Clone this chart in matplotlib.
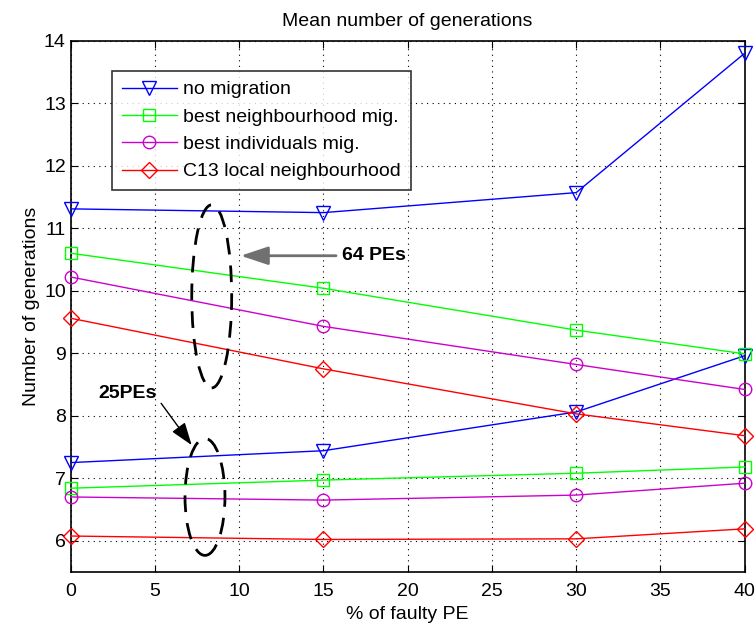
import matplotlib.pyplot as plt
from matplotlib.patches import Ellipse

plt.rcParams['font.family'] = ['Liberation Sans', 'DejaVu Sans']

# % of faulty PE
faulty = [0, 15, 30, 40]

# 64 PEs
no_mig_64 = [11.31, 11.25, 11.57, 13.80]
best_nb_64 = [10.60, 10.04, 9.37, 8.99]
best_ind_64 = [10.22, 9.43, 8.82, 8.42]
c13_64 = [9.56, 8.75, 8.03, 7.68]

# 25 PEs
no_mig_25 = [7.25, 7.44, 8.06, 8.96]
best_nb_25 = [6.84, 6.97, 7.08, 7.18]
best_ind_25 = [6.70, 6.65, 6.73, 6.92]
c13_25 = [6.075, 6.02, 6.03, 6.19]

labels = ["no migration", "best neighbourhood mig.",
          "best individuals mig.", "C13 local neighbourhood"]
colors = ["#0000ff", "#00ff00", "#cc00cc", "#ff0000"]
markers = ["v", "s", "o", "D"]
msizes = [10, 8, 9, 8]

fig = plt.figure(figsize=(7.56, 6.32), dpi=100)
ax = fig.add_axes([0.0935, 0.095, 0.8915, 0.8405])

series_64 = [no_mig_64, best_nb_64, best_ind_64, c13_64]
series_25 = [no_mig_25, best_nb_25, best_ind_25, c13_25]

for i in range(4):
    ax.plot(faulty, series_64[i], color=colors[i], marker=markers[i],
            ms=msizes[i], mfc='none', mec=colors[i], lw=1, mew=1,
            label=labels[i], clip_on=False, zorder=3)
    ax.plot(faulty, series_25[i], color=colors[i], marker=markers[i],
            ms=msizes[i], mfc='none', mec=colors[i], lw=1, mew=1,
            clip_on=False, zorder=3)

ax.set_xlim(0, 40)
ax.set_ylim(5.5, 14)
ax.set_xticks(range(0, 41, 5))
ax.set_yticks(range(6, 15))
ax.tick_params(direction='in', top=True, right=True, labelsize=14, length=5)
ax.tick_params(axis='x', pad=8)
ax.grid(True, color='black', linestyle=(0, (1, 4)), linewidth=0.8)
for s in ax.spines.values():
    s.set_linewidth(1.2)

ax.set_title("Mean number of generations", fontsize=14, pad=10.5)
ax.set_xlabel("% of faulty PE", fontsize=14, labelpad=4)
ax.set_ylabel("Number of generations", fontsize=14, labelpad=3)

leg = ax.legend(loc='upper left', bbox_to_anchor=(0.062, 0.943), fontsize=14,
                frameon=True, fancybox=False, edgecolor='black',
                handlelength=2.8, handletextpad=0.35, borderpad=0.5,
                labelspacing=0.5, borderaxespad=0)
leg.get_frame().set_linewidth(1.2)

# dashed ellipses marking the two groups
ax.add_patch(Ellipse((8.37, 9.91), 2.37, 2.93, fill=False, ec='black',
                     lw=2, ls=(0, (6, 4)), zorder=4))
ax.add_patch(Ellipse((7.97, 6.70), 2.37, 1.87, fill=False, ec='black',
                     lw=2, ls=(0, (6, 4)), zorder=4))

ax.annotate("64 PEs", xy=(10.09, 10.56), xytext=(16.08, 10.56),
            fontsize=14, fontweight='bold', va='center', ha='left',
            arrowprops=dict(arrowstyle='-|>,head_length=1.2,head_width=0.4',
                            color='#707070', lw=2, shrinkA=2, shrinkB=0))
ax.annotate("25PEs", xy=(7.18, 7.53), xytext=(1.64, 8.35),
            fontsize=14, fontweight='bold', va='center', ha='left',
            arrowprops=dict(arrowstyle='-|>,head_length=1.0,head_width=0.35',
                            color='black', lw=1, shrinkA=2, shrinkB=0,
                            relpos=(1.0, 0.3)))

fig.savefig("out.png", dpi=100)
